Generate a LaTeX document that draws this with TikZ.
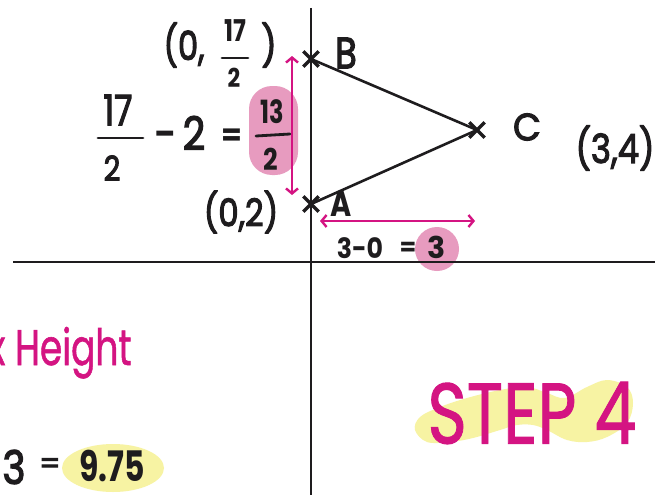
\documentclass[tikz,border=0pt]{standalone}
\usepackage{fontspec}
\setmainfont{Poppins}
\newfontfamily\handfont{Poppins}[FakeBold=3]
\newfontfamily\handmfont{Poppins}[FakeBold=1.2]
\usetikzlibrary{arrows.meta,shapes.misc}
\definecolor{mag}{RGB}{212,20,130}
\definecolor{pinkblob}{RGB}{231,155,191}
\definecolor{yellowblob}{RGB}{247,243,163}
\definecolor{ink}{RGB}{30,28,30}
\begin{document}
\begin{tikzpicture}[x=1pt,y=-1pt,
  hand/.style={inner sep=0, text=ink},
  handm/.style={inner sep=0, text=mag},
  crossmark/.style={cross out, draw=ink, line width=3.4pt, minimum size=12pt, inner sep=0},
  axis/.style={line width=2pt, ink},
  edge/.style={line width=2.6pt, ink},
  fracbar/.style={line width=2.8pt, ink, line cap=round},
  meas/.style={line width=2.4pt, mag, {Straight Barb[length=5pt,width=12pt]}-{Straight Barb[length=5pt,width=12pt]}},
]
\useasboundingbox (0,0) rectangle (668,495);
\fill[white] (0,0) rectangle (668,495);

% highlight blobs
\fill[pinkblob, rounded corners=23pt] (249,86) rectangle (298,175);
\fill[pinkblob] (437,249) circle (22);
\fill[yellowblob] (113,468) ellipse (51 and 24);
\fill[yellowblob] plot[smooth cycle, tension=0.6] coordinates {
  (415,430) (420,417) (440,407) (467,398) (500,390) (527,387) (547,393)
  (565,398) (587,387) (607,380) (627,387) (633,403) (627,423) (607,437)
  (587,442) (567,440) (547,430) (533,425) (517,425) (500,430) (473,438)
  (450,442) (427,442)};

% axes
\coordinate (ytop) at (311,8);
\coordinate (ybot) at (311,495);
\coordinate (xl) at (13,262);
\coordinate (xr) at (655,262);
\draw[axis] (ytop) -- (ybot);
\draw[axis] (xl) -- (xr);

% triangle points
\node[crossmark] (B) at (311,59) {};
\node[crossmark] (A) at (311,204) {};
\node[crossmark] (C) at (477,130) {};
\draw[edge] (B.center) -- (C.center) -- (A.center);

\node[hand, font=\fontsize{44}{44}\handfont, xscale=0.8] (Bl) at (346,53) {B};
\node[hand, font=\fontsize{36}{36}\selectfont\bfseries, xscale=0.8] (Al) at (341,204) {A};
\node[hand, font=\fontsize{38}{38}\handfont, xscale=0.95] (Cl) at (527,127) {C};
\node[hand, font=\fontsize{40}{40}\handfont, xscale=0.85] (Cc) at (615,148) {(3,4)};

% B coordinate (0, 17/2)
\node[hand, font=\fontsize{40}{40}\handfont, xscale=0.8] (Bp1) at (184,45) {(0,};
\node[hand, font=\fontsize{30}{30}\selectfont\bfseries, xscale=0.8] (Bn) at (235,31) {17};
\coordinate (Bb1) at (222,58);
\coordinate (Bb2) at (248,58);
\draw[fracbar] (Bb1) -- (Bb2);
\node[hand, font=\fontsize{26}{26}\selectfont\bfseries, xscale=0.85] (Bd) at (234,78) {2};
\node[hand, font=\fontsize{40}{40}\handfont, xscale=0.85] (Bp2) at (269,45) {)};

% A coordinate
\node[hand, font=\fontsize{38}{38}\handfont, xscale=0.85] (Ac) at (241,212) {(0,2)};

% 17/2 - 2 = 13/2
\node[hand, font=\fontsize{42}{42}\handfont, xscale=0.8] (n1) at (118,110) {17};
\coordinate (f1a) at (98,138);
\coordinate (f1b) at (143,138);
\draw[fracbar] (f1a) -- (f1b);
\node[hand, font=\fontsize{34}{34}\handfont, xscale=0.85] (d1) at (112,168) {2};
\node[hand, font=\fontsize{46}{46}\handfont, xscale=0.85] (m2) at (180,133) {-\,2};
\node[hand, font=\fontsize{30}{30}\selectfont\bfseries] (eq1) at (232,137) {=};
\node[hand, font=\fontsize{32}{32}\selectfont\bfseries, xscale=0.75] (n2) at (272,112) {13};
\coordinate (f2a) at (256,136);
\coordinate (f2b) at (290,134);
\draw[fracbar] (f2a) -- (f2b);
\node[hand, font=\fontsize{30}{30}\selectfont\bfseries, xscale=0.85] (d2) at (271,159) {2};

% measurement arrows
\coordinate (va) at (292,56);
\coordinate (vb) at (292,195);
\draw[meas] (va) -- (vb);
\coordinate (ha) at (320,221);
\coordinate (hb) at (475,221);
\draw[meas] (ha) -- (hb);

% 3 - 0 = 3
\node[hand, font=\fontsize{28}{28}\selectfont\bfseries, xscale=0.9] (w1) at (360,248) {3-0};
\node[hand, font=\fontsize{24}{24}\selectfont\bfseries] (eq2) at (408,249) {=};
\node[hand, font=\fontsize{30}{30}\selectfont\bfseries] (w2) at (437,247) {3};

% x Height
\node[handm, font=\fontsize{50}{50}\handmfont, xscale=0.72, anchor=base west] (ht) at (-12,365) {x Height};

% 3 = 9.75
\node[hand, font=\fontsize{46}{46}\handfont, xscale=0.85] (r3) at (14,467) {3};
\node[hand, font=\fontsize{30}{30}\handfont] (eq3) at (50,466) {=};
\node[hand, font=\fontsize{42}{42}\selectfont\bfseries, xscale=0.75] (r975) at (112,466) {9.75};

% STEP 4
\node[handm, font=\fontsize{86}{86}\handmfont, xscale=0.78] (step) at (532,413) {STEP 4};
\end{tikzpicture}
\end{document}
